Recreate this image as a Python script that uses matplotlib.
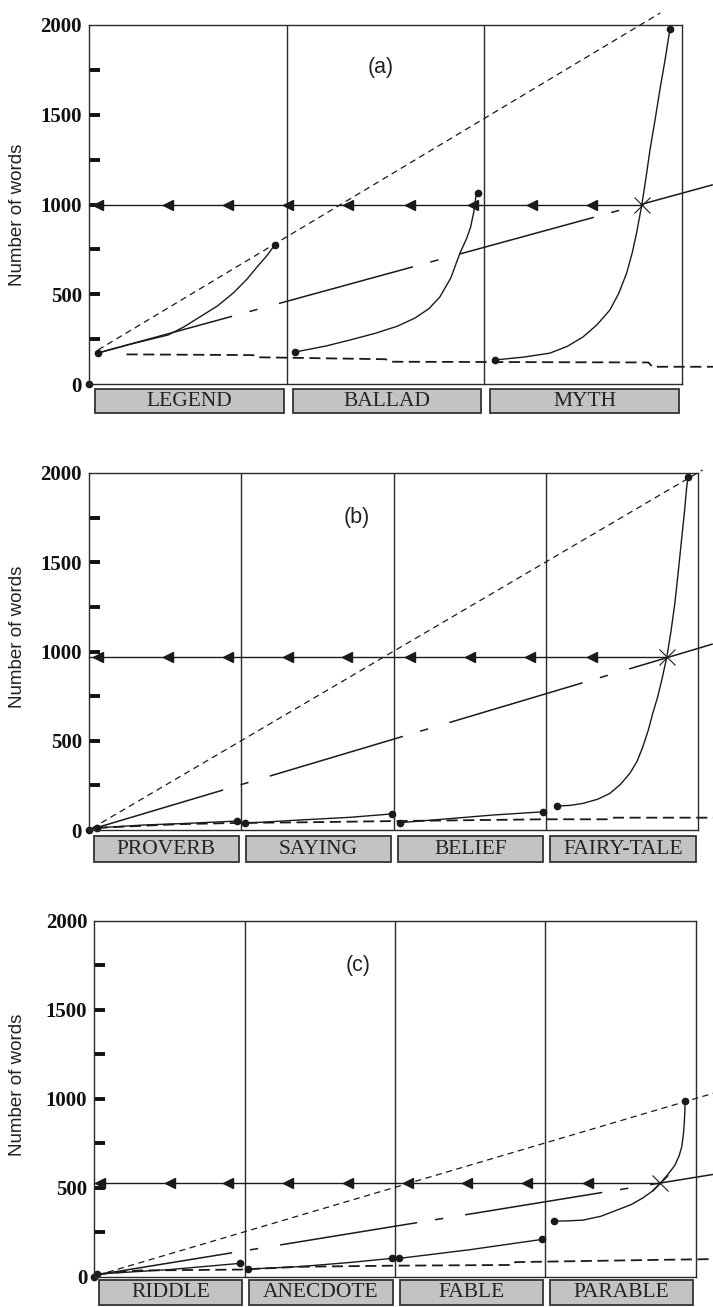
import matplotlib
matplotlib.use('Agg')
import matplotlib.pyplot as plt
from matplotlib.transforms import blended_transform_factory
from matplotlib.patches import Rectangle

plt.rcParams['lines.scale_dashes'] = False

W, H = 713, 1307
INK = '#1a1a1a'

# ---------------- data: panel (a) ----------------
cats_a = ['LEGEND', 'BALLAD', 'MYTH']
legend_x = [0.046, 0.21, 0.40, 0.48, 0.56, 0.65, 0.73, 0.80, 0.85, 0.90, 0.94]
legend_y = [173, 222, 273, 318, 373, 435, 507, 585, 652, 715, 775]
ballad_x = [1.042, 1.2, 1.32, 1.45, 1.56, 1.65, 1.72, 1.775, 1.83, 1.877, 1.91, 1.93, 1.947, 1.957, 1.968]
ballad_y = [178, 212, 245, 283, 322, 368, 420, 485, 590, 730, 810, 872, 960, 1042, 1064]
myth_x = [2.054, 2.2, 2.332, 2.42, 2.499, 2.57, 2.635, 2.68, 2.72, 2.748, 2.77, 2.797,
          2.818, 2.838, 2.865, 2.888, 2.915, 2.939]
myth_y = [134, 150, 172, 210, 262, 330, 412, 505, 618, 730, 840, 1000,
          1150, 1304, 1480, 1638, 1810, 1978]
level_a = 1000
arrows_a = [0.046, 0.40, 0.703, 1.007, 1.31, 1.624, 1.942, 2.241, 2.544]
cross_a = 2.797
upper_a_x = [0.046, 2.89]
upper_a_y = [190, 2067]
lower_a_x = [0.19, 0.83, 0.85, 1.50, 1.53, 2.83, 2.85, 3.16]
lower_a_y = [165, 161, 149, 138, 124, 120, 96, 96]
trend_a_x = [0.046, 3.156]
trend_a_y = [173, 1110]

# ---------------- data: panel (b) ----------------
cats_b = ['PROVERB', 'SAYING', 'BELIEF', 'FAIRY-TALE']
proverb_x = [0.05, 0.36, 0.64, 0.97]
proverb_y = [12, 28, 37, 50]
saying_x = [1.024, 1.385, 1.714, 1.988]
saying_y = [38, 56, 71, 90]
belief_x = [2.042, 2.26, 2.655, 2.983]
belief_y = [41, 56, 84, 102]
fairy_x = [3.073, 3.16, 3.244, 3.34, 3.421, 3.49, 3.552, 3.6, 3.638, 3.672, 3.703, 3.735,
           3.762, 3.795, 3.822, 3.848, 3.872, 3.894, 3.912, 3.926, 3.935]
fairy_y = [134, 138, 149, 172, 205, 255, 317, 385, 467, 555, 654, 745,
           840, 968, 1110, 1270, 1460, 1643, 1790, 1923, 1979]
level_b = 968
arrows_b = [0.059, 0.519, 0.913, 1.307, 1.694, 2.108, 2.502, 2.896, 3.303]
cross_b = 3.795
upper_b_x = [0.02, 4.03]
upper_b_y = [10, 2017]
lower_b_x = [0.05, 0.6, 1.0, 1.4, 2.0, 3.0, 3.4, 3.43, 4.1]
lower_b_y = [12, 33, 40, 43, 50, 60, 60, 69, 69]
trend_b_x = [0.007, 4.097]
trend_b_y = [2, 1042]

# ---------------- data: panel (c) ----------------
cats_c = ['RIDDLE', 'ANECDOTE', 'FABLE', 'PARABLE']
riddle_x = [0.02, 0.5, 0.969]
riddle_y = [15, 40, 75]
anecdote_x = [1.024, 1.37, 1.7, 1.978]
anecdote_y = [43, 57, 80, 103]
fable_x = [2.028, 2.5, 2.98]
fable_y = [103, 152, 210]
parable_x = [3.058, 3.15, 3.25, 3.37, 3.474, 3.57, 3.647, 3.71, 3.763, 3.815, 3.862,
             3.89, 3.907, 3.918, 3.924, 3.928, 3.929]
parable_y = [312, 314, 318, 340, 374, 405, 442, 480, 525, 575, 627,
             680, 730, 800, 862, 930, 986]
level_c = 525
arrows_c = [0.038, 0.503, 0.889, 1.288, 1.687, 2.086, 2.479, 2.878, 3.283]
cross_c = 3.763
upper_c_x = [0.02, 4.12]
upper_c_y = [8, 1032]
lower_c_x = [0.03, 0.3, 0.97, 1.37, 2.0, 2.78, 2.80, 3.7, 4.12]
lower_c_y = [15, 35, 40, 56, 62, 66, 82, 94, 99]
trend_c_x = [0.005, 4.115]
trend_c_y = [9, 575]

yticks_major = [0, 500, 1000, 1500, 2000]
yticks_minor = [250, 500, 750, 1000, 1250, 1500, 1750]

# ---------------- layout (pixels) ----------------
panels = [
    dict(name='(a)', cats=cats_a, left=89, right=682, top=25, bottom=384,
         curves=[(legend_x, legend_y), (ballad_x, ballad_y), (myth_x, myth_y)],
         level=level_a, arrows=arrows_a, cross=cross_a,
         upper=(upper_a_x, upper_a_y), lower=(lower_a_x, lower_a_y),
         trend=(trend_a_x, trend_a_y), box=(389, 413), lab=(381, 67), ylab=215),
    dict(name='(b)', cats=cats_b, left=89, right=698, top=473, bottom=830,
         curves=[(proverb_x, proverb_y), (saying_x, saying_y), (belief_x, belief_y), (fairy_x, fairy_y)],
         level=level_b, arrows=arrows_b, cross=cross_b,
         upper=(upper_b_x, upper_b_y), lower=(lower_b_x, lower_b_y),
         trend=(trend_b_x, trend_b_y), box=(836, 862), lab=(357, 517), ylab=637),
    dict(name='(c)', cats=cats_c, left=94.3, right=695.7, top=921, bottom=1276.7,
         curves=[(riddle_x, riddle_y), (anecdote_x, anecdote_y), (fable_x, fable_y), (parable_x, parable_y)],
         level=level_c, arrows=arrows_c, cross=cross_c,
         upper=(upper_c_x, upper_c_y), lower=(lower_c_x, lower_c_y),
         trend=(trend_c_x, trend_c_y), box=(1280, 1305), lab=(358, 965), ylab=1085),
]

fig = plt.figure(figsize=(W / 100, H / 100), dpi=100)

for p in panels:
    n = len(p['cats'])
    ax = fig.add_axes([p['left'] / W, 1 - p['bottom'] / H,
                       (p['right'] - p['left']) / W, (p['bottom'] - p['top']) / H])
    ax.set_xlim(0, n)
    ax.set_ylim(0, 2000)
    for s in ax.spines.values():
        s.set_linewidth(1.0)
        s.set_color('#2a2a2a')
    for i in range(1, n):
        ax.axvline(i, color='#2a2a2a', lw=1.0)
    ax.set_xticks([])
    ax.yaxis.remove_overlapping_locs = False
    ax.set_yticks(yticks_major)
    ax.set_yticklabels([str(v) for v in yticks_major], fontfamily='Liberation Serif',
                       fontweight='bold', fontsize=15, color='#111')
    ax.set_yticks(yticks_minor, minor=True)
    ax.tick_params(axis='y', which='major', length=0, pad=5)
    ax.tick_params(axis='y', which='minor', direction='in', length=8, width=2.8, color='#111')

    # horizontal level line with arrows and cross
    ax.plot([0, p['cross']], [p['level'], p['level']], color=INK, lw=1.0, clip_on=False)
    ax.plot(p['arrows'], [p['level']] * len(p['arrows']), ls='none', marker='<',
            ms=7, color=INK, clip_on=False)
    ax.plot([p['cross']], [p['level']], ls='none', marker='x', ms=11, mew=0.8,
            color=INK, clip_on=False)

    # upper short-dashed line
    ax.plot(*p['upper'], color=INK, lw=0.9, ls=(0, (4.5, 3.2)), clip_on=False)
    # lower long-dashed line
    ax.plot(*p['lower'], color=INK, lw=1.3, ls=(0, (8, 4)), clip_on=False)
    # broken trend line (long dash, dot)
    ax.plot(*p['trend'], color=INK, lw=1.1, ls=(0, (100, 13, 6, 16)), clip_on=False)

    # curves with end points
    for cx, cy in p['curves']:
        ax.plot(cx, cy, color=INK, lw=1.0, clip_on=False)
        ax.plot([cx[0], cx[-1]], [cy[0], cy[-1]], ls='none', marker='o', ms=4.5,
                color=INK, clip_on=False)
    ax.plot([0], [0], ls='none', marker='o', ms=4.5, color=INK, clip_on=False)

    # category boxes
    tr = blended_transform_factory(ax.transData, fig.transFigure)
    b0, b1 = p['box']
    for i, c in enumerate(p['cats']):
        x0, x1 = i + 0.03, i + 0.985
        ax.add_patch(Rectangle((x0, 1 - b1 / H), x1 - x0, (b1 - b0) / H, transform=tr,
                               facecolor='#c3c3c3', edgecolor='#333333', lw=1.3,
                               clip_on=False))
        ax.text((x0 + x1) / 2, 1 - (b0 + b1) / 2 / H, c, transform=tr, ha='center',
                va='center', fontfamily='Liberation Serif', fontsize=15.5, color='#222')

    fig.text(p['lab'][0] / W, 1 - p['lab'][1] / H, p['name'], ha='center', va='center',
             fontfamily='Liberation Sans', fontsize=15.5, color='#222')
    fig.text(18 / W, 1 - p['ylab'] / H, 'Number of words', rotation=90, ha='center',
             va='center', fontfamily='Liberation Sans', fontsize=13.5, color='#222')

fig.savefig('out.png', dpi=100, facecolor='white')
